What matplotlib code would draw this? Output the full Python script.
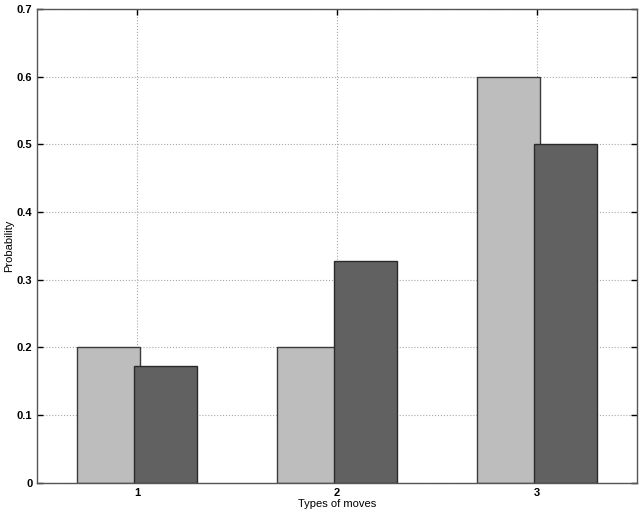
import matplotlib
matplotlib.use("Agg")
import matplotlib.pyplot as plt
import numpy as np

# move types and the two probability series
moves = [1, 2, 3]
prob_light = [0.2, 0.2, 0.6]
prob_dark = [0.172, 0.327, 0.5]

plt.rcParams['font.family'] = ['Liberation Sans', 'DejaVu Sans']

fig = plt.figure(figsize=(6.4, 5.17), dpi=100)
ax = fig.add_axes([0.058, 0.066, 0.937, 0.917])

x = np.array(moves)
w = 0.315
off = 0.143
ax.bar(x - off, prob_light, w, color='#bdbdbd', edgecolor='#3a3a3a', linewidth=1.0, zorder=2)
ax.bar(x + off, prob_dark, w, color='#616161', edgecolor='#2a2a2a', linewidth=1.0, zorder=3)

ax.set_xlim(0.5, 3.5)
ax.set_ylim(0, 0.7)
ax.set_xticks(moves)
ax.set_yticks(np.arange(0, 0.71, 0.1))
ax.set_yticklabels(['0', '0.1', '0.2', '0.3', '0.4', '0.5', '0.6', '0.7'])

ax.grid(True, linestyle=':', color='#a8a8a8', linewidth=0.8, zorder=0)
ax.set_axisbelow(True)
ax.tick_params(direction='in', top=True, right=True, labelsize=8, length=4, width=1)
for lab in ax.get_xticklabels() + ax.get_yticklabels():
    lab.set_fontweight('bold')
for s in ax.spines.values():
    s.set_color('#555555')
    s.set_linewidth(1.0)

ax.set_xlabel('Types of moves', fontsize=8, labelpad=1)
ax.set_ylabel('Probability', fontsize=8, labelpad=2)

fig.savefig('out.png', dpi=100)
